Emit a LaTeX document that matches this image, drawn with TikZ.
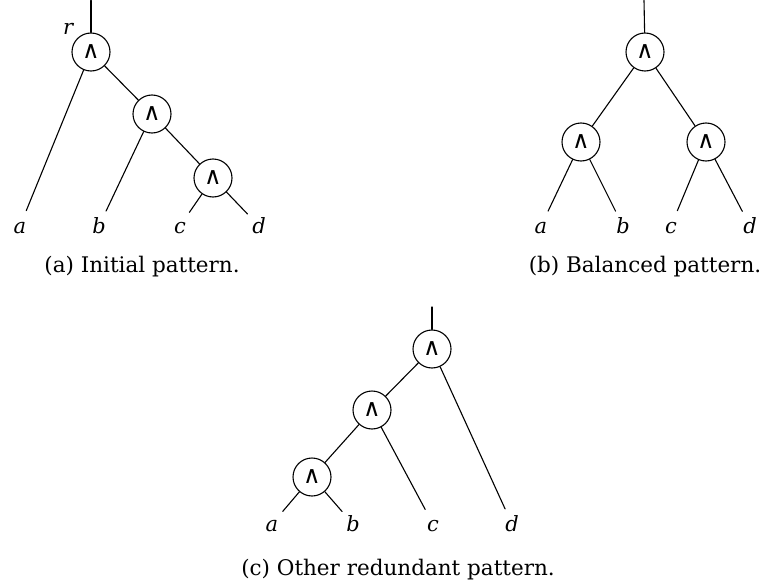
\documentclass[tikz,border=0pt]{standalone}
\usepackage{fontspec}
\setmainfont{DejaVu Serif}
\newfontfamily\wedgefont{DejaVu Sans}

\begin{document}
\begin{tikzpicture}[x=1pt, y=-1pt, line width=1.1pt, line cap=round,
  op/.style={circle, draw, minimum size=38pt, inner sep=0pt, font=\fontsize{24}{24}\selectfont\wedgefont},
  leaf/.style={circle, minimum size=32pt, inner sep=0pt, text height=15pt, text depth=0pt,
    font=\fontsize{21}{24}\selectfont\itshape},
  lbl/.style={inner sep=0pt, font=\fontsize{21}{24}\selectfont\itshape},
  captxt/.style={anchor=base, inner sep=0pt, font=\fontsize{21.5}{26}\selectfont}]

  %% ════ (a) 初始模式 ════
  \coordinate (ta) at (91.0,0.5);
  \node[op, label={[lbl, label distance=5pt]135:r}] (a1) at (91.0,52.0) {∧};
  \node[op] (a2) at (152.0,114.0) {∧};
  \node[op] (a3) at (213.0,178.0) {∧};
  \node[leaf] (aa) at (20.0,226.0) {a};
  \node[leaf] (ab) at (99.0,226.0) {b};
  \node[leaf] (ac) at (180.0,226.0) {c};
  \node[leaf] (ad) at (259.0,226.0) {d};
  \draw (ta) -- (a1);
  \draw (a1) -- (a2);
  \draw (a2) -- (a3);
  \draw (a1) -- (aa);
  \draw (a2) -- (ab);
  \draw (a3) -- (ac);
  \draw (a3) -- (ad);
  \node[captxt] (capa) at (142.0,272.0) {(a) Initial pattern.};

  %% ════ (b) 平衡模式 ════
  \coordinate (tb) at (644.0,0.5);
  \node[op] (b1) at (645.0,52.0) {∧};
  \node[op] (b2) at (581.0,142.0) {∧};
  \node[op] (b3) at (706.0,142.0) {∧};
  \node[leaf] (ba) at (541.0,226.0) {a};
  \node[leaf] (bb) at (623.0,226.0) {b};
  \node[leaf] (bc) at (671.0,226.0) {c};
  \node[leaf] (bd) at (750.0,226.0) {d};
  \draw (tb) -- (b1);
  \draw (b1) -- (b2);
  \draw (b1) -- (b3);
  \draw (b2) -- (ba);
  \draw (b2) -- (bb);
  \draw (b3) -- (bc);
  \draw (b3) -- (bd);
  \node[captxt] (capb) at (645.0,272.0) {(b) Balanced pattern.};

  %% ════ (c) 另一冗余模式 ════
  \coordinate (tc) at (432.0,307.0);
  \node[op] (c1) at (432.0,349.0) {∧};
  \node[op] (c2) at (372.0,410.0) {∧};
  \node[op] (c3) at (312.0,477.0) {∧};
  \node[leaf] (ca) at (272.0,524.0) {a};
  \node[leaf] (cb) at (353.0,524.0) {b};
  \node[leaf] (cc) at (433.0,524.0) {c};
  \node[leaf] (cd) at (512.0,524.0) {d};
  \draw (tc) -- (c1);
  \draw (c1) -- (c2);
  \draw (c2) -- (c3);
  \draw (c3) -- (ca);
  \draw (c3) -- (cb);
  \draw (c2) -- (cc);
  \draw (c1) -- (cd);
  \node[captxt] (capc) at (398.0,575.0) {(c) Other redundant pattern.};

  % 钉死画布
  \pgfresetboundingbox
  \path[use as bounding box] (0,0) rectangle (766,586);
\end{tikzpicture}
\end{document}
